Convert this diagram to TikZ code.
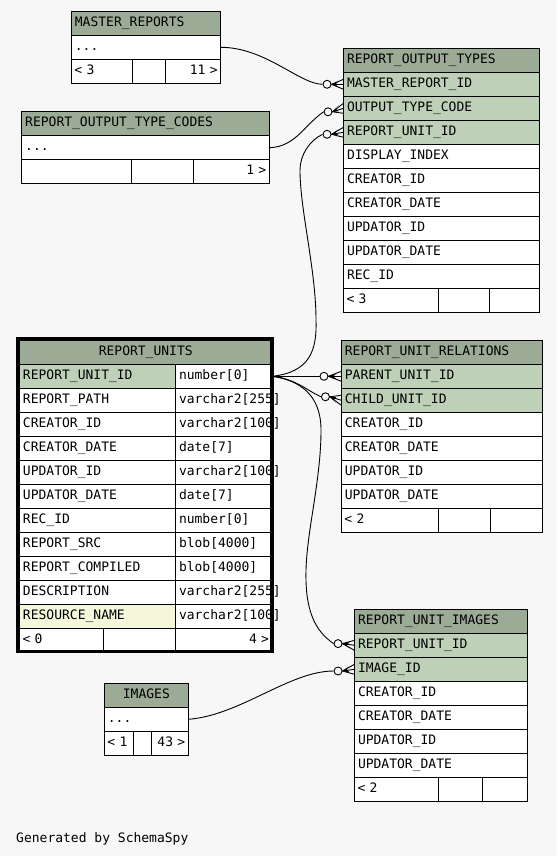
\documentclass[tikz,border=0pt]{standalone}
\usepackage{fontspec}
\newfontfamily\schemafont{DejaVu Sans Mono}
\usetikzlibrary{calc,positioning}
\definecolor{bgcol}{HTML}{F7F7F7}
\definecolor{headcol}{HTML}{9BAB96}
\definecolor{keycol}{HTML}{BED1B8}
\definecolor{idxcol}{HTML}{F4F7DA}
\newcommand{\crowfoot}[2]{%
  \draw[fkline] (#1.east) -- (#2.west);
  \draw[fkline] (#1.east) -- ([yshift=5pt]#2.west);
  \draw[fkline] (#1.east) -- ([yshift=-5pt]#2.west);
  \fill (#1.east) -- ([shift={(-5pt,3pt)}]#2.west) -- ([xshift=-8pt]#2.west)
    -- ([shift={(-5pt,-3pt)}]#2.west) -- cycle;}

\begin{document}
\begin{tikzpicture}[x=1pt,y=-1pt,
  every node/.style={font=\schemafont\fontsize{13}{15}\selectfont},
  cellbox/.style={draw,line width=0.9pt,fill=white,anchor=north west,outer sep=0pt,
    minimum height=24pt,inner xsep=3.5pt,inner ysep=0pt,text width=#1pt,
    text height=9.5pt,text depth=3pt,align=left},
  headbox/.style={cellbox=#1,fill=headcol},
  footbox/.style={cellbox=#1,inner xsep=3pt},
  fkdot/.style={circle,draw,line width=0.9pt,fill=bgcol,inner sep=0pt,minimum size=8pt},
  fkline/.style={line width=0.9pt},
  thickframe/.style={draw,line width=3.5pt}]
  \useasboundingbox (0,0) rectangle (557,856);
  \fill[bgcol] (0,0) rectangle (557,856);

  % MASTER_REPORTS
  \node[headbox=142.2] (mr-0) at (71.4,11.3) {MASTER\_REPORTS};
  \node[cellbox=142.2] (mr-1) at (71.4,35.3) {...};
  \node[footbox=55.1] (mr-f1) at (71.4,59.3) {< 3};
  \node[footbox=26.7,right=0pt of mr-f1] (mr-f2) {};
  \node[footbox=49.4,right=0pt of mr-f2,align=right] (mr-f3) {11 >};

  % REPORT_OUTPUT_TYPE_CODES
  \node[headbox=240.6] (rotc-0) at (21.7,111.7) {REPORT\_OUTPUT\_TYPE\_CODES};
  \node[cellbox=240.6] (rotc-1) at (21.7,135.7) {...};
  \node[footbox=104.1] (rotc-f1) at (21.7,159.7) {};
  \node[footbox=55.8,right=0pt of rotc-f1] (rotc-f2) {};
  \node[footbox=69.7,right=0pt of rotc-f2,align=right] (rotc-f3) {1 >};

  % REPORT_OUTPUT_TYPES
  \node[headbox=188.8] (rot-0) at (343.5,48.3) {REPORT\_OUTPUT\_TYPES};
  \foreach \nm/\fc [count=\i] in {MASTER\_REPORT\_ID/keycol,OUTPUT\_TYPE\_CODE/keycol,
      REPORT\_UNIT\_ID/keycol,DISPLAY\_INDEX/white,CREATOR\_ID/white,CREATOR\_DATE/white,
      UPDATOR\_ID/white,UPDATOR\_DATE/white,REC\_ID/white}
    \node[cellbox=188.8,fill=\fc] (rot-\i) at (343.5,48.3+24*\i) {\nm};
  \node[footbox=88.5] (rot-f1) at (343.5,288.3) {< 3};
  \node[footbox=45,right=0pt of rot-f1] (rot-f2) {};
  \node[footbox=44.3,right=0pt of rot-f2] (rot-f3) {};

  % REPORT_UNITS
  \node[headbox=245.5,align=center] (ru-0) at (19.5,340.3) {REPORT\_UNITS};
  \foreach \nm/\ty/\fc [count=\i] in {REPORT\_UNIT\_ID/number[0]/keycol,
      REPORT\_PATH/varchar2[255]/white,CREATOR\_ID/varchar2[100]/white,
      CREATOR\_DATE/date[7]/white,UPDATOR\_ID/varchar2[100]/white,
      UPDATOR\_DATE/date[7]/white,REC\_ID/number[0]/white,REPORT\_SRC/blob[4000]/white,
      REPORT\_COMPILED/blob[4000]/white,DESCRIPTION/varchar2[255]/white,
      RESOURCE\_NAME/varchar2[100]/idxcol}
  {
    \node[cellbox=149,fill=\fc] (ru-\i) at (19.5,340.3+24*\i) {\nm};
    \node[cellbox=89.5,right=0pt of ru-\i] (ru-t\i) {\ty};
  }
  \node[footbox=77.9] (ru-f1) at (19.5,628.3) {< 0};
  \node[footbox=66.1,right=0pt of ru-f1] (ru-f2) {};
  \node[footbox=90.5,right=0pt of ru-f2,align=right] (ru-f3) {4 >};
  \draw[thickframe] ([shift={(-2pt,1.5pt)}]ru-0.north west) rectangle ([shift={(0pt,1pt)}]ru-f3.south east);

  % REPORT_UNIT_RELATIONS
  \node[headbox=194] (rur-0) at (341.4,340.3) {REPORT\_UNIT\_RELATIONS};
  \foreach \nm/\fc [count=\i] in {PARENT\_UNIT\_ID/keycol,CHILD\_UNIT\_ID/keycol,
      CREATOR\_ID/white,CREATOR\_DATE/white,UPDATOR\_ID/white,UPDATOR\_DATE/white}
    \node[cellbox=194,fill=\fc] (rur-\i) at (341.4,340.3+24*\i) {\nm};
  \node[footbox=91] (rur-f1) at (341.4,508.3) {< 2};
  \node[footbox=45.8,right=0pt of rur-f1] (rur-f2) {};
  \node[footbox=46.2,right=0pt of rur-f2] (rur-f3) {};

  % REPORT_UNIT_IMAGES
  \node[headbox=166] (rui-0) at (354.5,609.3) {REPORT\_UNIT\_IMAGES};
  \foreach \nm/\fc [count=\i] in {REPORT\_UNIT\_ID/keycol,IMAGE\_ID/keycol,
      CREATOR\_ID/white,CREATOR\_DATE/white,UPDATOR\_ID/white,UPDATOR\_DATE/white}
    \node[cellbox=166,fill=\fc] (rui-\i) at (354.5,609.3+24*\i) {\nm};
  \node[footbox=77.9] (rui-f1) at (354.5,777.3) {< 2};
  \node[footbox=38,right=0pt of rui-f1] (rui-f2) {};
  \node[footbox=39.1,right=0pt of rui-f2] (rui-f3) {};

  % IMAGES
  \node[headbox=76.9,align=center] (img-0) at (104.4,683.3) {IMAGES};
  \node[cellbox=76.9] (img-1) at (104.4,707.3) {...};
  \node[footbox=22.8] (img-f1) at (104.4,731.3) {< 1};
  \node[footbox=12.5,right=0pt of img-f1] (img-f2) {};
  \node[footbox=30.6,right=0pt of img-f2,align=right] (img-f3) {43 >};

  \node[anchor=west,inner sep=0pt] (gen) at (16,839) {Generated by SchemaSpy};

  % foreign keys
  \node[fkdot,left=12pt of rot-1.west] (o1) {};
  \node[fkdot,left=11pt of rot-2.west,yshift=-3.5pt] (o2) {};
  \node[fkdot,left=12pt of rot-3.west,yshift=-2pt] (o3) {};
  \node[fkdot,left=13pt of rur-1.west] (o4) {};
  \node[fkdot,left=11.5pt of rur-2.west,yshift=3.5pt] (o5) {};
  \node[fkdot,left=12pt of rui-1.west,yshift=1.7pt] (o6) {};
  \node[fkdot,left=12pt of rui-2.west,yshift=-1.7pt] (o7) {};

  \draw[fkline] (mr-1.east) .. controls +(45,0) and +(-23,0) .. (o1.west);
  \draw[fkline] (rotc-1.east) .. controls +(26,-0.7) and +(-19,13) .. (o2.west);
  \draw[fkline] (ru-t1.east) .. controls +(38,-4) and +(1,30) .. (316,320)
    .. controls +(0,-50) and +(0,40) .. (300,170)
    .. controls +(0,-15) and +(-13,6) .. (o3.west);
  \draw[fkline] (ru-t1.east) -- (o4.west);
  \draw[fkline] (ru-t1.east) .. controls +(23,2) and +(-12,-5) .. (o5.west);
  \draw[fkline] (ru-t1.east) .. controls +(28,4) and +(0,-35) .. (321,430)
    .. controls +(0,50) and +(1,-40) .. (306,570)
    .. controls +(-1,40) and +(-19,-13) .. (o6.west);
  \draw[fkline] (img-1.east) .. controls +(52,-4) and +(-44,0) .. (o7.west);

  \crowfoot{o1}{rot-1}
  \crowfoot{o2}{rot-2}
  \crowfoot{o3}{rot-3}
  \crowfoot{o4}{rur-1}
  \crowfoot{o5}{rur-2}
  \crowfoot{o6}{rui-1}
  \crowfoot{o7}{rui-2}
\end{tikzpicture}
\end{document}
